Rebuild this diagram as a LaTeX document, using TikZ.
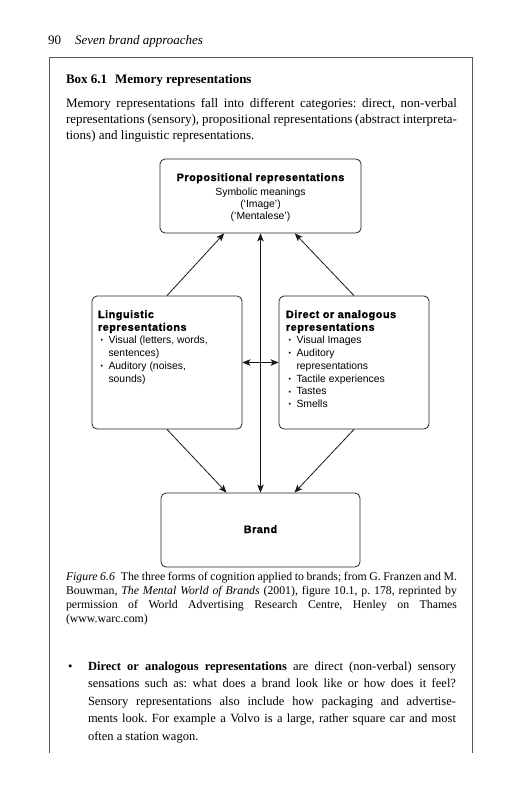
\documentclass[tikz,border=0pt]{standalone}
\usepackage{fontspec}
\setmainfont{Liberation Serif}
\newfontfamily\dsans{Liberation Sans}
\newfontfamily\dheavy{Liberation Sans Bold}[FakeBold=1.2,LetterSpace=5]
\usetikzlibrary{arrows.meta,calc}
\frenchspacing
\newcommand\jline[1]{\hbox to \hsize{#1}}
\newcommand\lastline[1]{\hbox{#1}}
\newcommand\blt{\makebox[10.5pt][l]{\hspace{2.5pt}\raisebox{0.8pt}{\fontsize{7}{7}\selectfont •}}}
\tikzset{
  dbox/.style={draw=black!85, line width=0.8pt, rounded corners=5pt, inner sep=0pt},
  arr/.style={draw=black!90, line width=0.8pt, -{Stealth[length=8pt,width=6.5pt,inset=2pt]}},
  darr/.style={draw=black!90, line width=0.8pt, {Stealth[length=8pt,width=6.5pt,inset=2pt]}-{Stealth[length=8pt,width=6.5pt,inset=2pt]}},
  txt/.style={anchor=base west, inner sep=0pt, outer sep=0pt},
  frame/.style={draw=black!65, line width=1pt}
}
\begin{document}
\begin{tikzpicture}[x=1pt,y=-1pt]
\fill[white] (0,0) rectangle (519,800);
\useasboundingbox (0,0) rectangle (519,800);

% running head
\node[txt] (pg) at (48,45) {\fontsize{13}{15}\selectfont 90};
\node[txt] (run) at (75,45) {\fontsize{13}{15}\selectfont\itshape Seven brand approaches};

% frame
\coordinate (f1) at (49,753);
\coordinate (f2) at (49,58);
\coordinate (f3) at (472,58);
\coordinate (f4) at (472,753);
\draw[frame] (f1) -- (f2) -- (f3) -- (f4);

% box title and body
\node[txt] (btitle) at (66,84) {\fontsize{13}{15}\selectfont\bfseries Box 6.1\hspace{8pt}Memory representations};
\node[txt] (body) at (66,107) {\parbox[t]{391pt}{\fontsize{13}{16}\selectfont
\jline{Memory representations fall into different categories: direct, non-verbal}
\jline{representations (sensory), propositional representations (abstract interpreta-}
\lastline{tions) and linguistic representations.}}};

% diagram boxes
\node[dbox, minimum width=201pt, minimum height=74pt] (top) at (260.5,196) {};
\node[dbox, minimum width=150pt, minimum height=133pt] (ling) at (167,362.5) {};
\node[dbox, minimum width=150pt, minimum height=133pt] (direct) at (354,362.5) {};
\node[dbox, minimum width=199pt, minimum height=74pt] (brand) at (260.5,530) {};

% box texts
\node[anchor=base, inner sep=0pt] (toptxt) at (260.5,181) {\parbox[t]{200pt}{\centering\fontsize{10.4}{12.2}\selectfont\dsans
{\fontsize{10.8}{12.2}\selectfont\dheavy Propositional representations}\\[1.8pt]
Symbolic meanings\\
(‘Image’)\\
(‘Mentalese’)}};

\node[txt] (lingtxt) at (98,318) {\parbox[t]{142pt}{\raggedright\fontsize{10.4}{12.8}\selectfont\dsans
{\fontsize{10.8}{12.8}\selectfont\dheavy Linguistic}\\
{\fontsize{10.8}{12.8}\selectfont\dheavy representations}\\
\blt Visual (letters, words,\\
\hspace*{10.5pt}sentences)\\
\blt Auditory (noises,\\
\hspace*{10.5pt}sounds)}};

\node[txt] (directtxt) at (286,318) {\parbox[t]{142pt}{\raggedright\fontsize{10.4}{12.8}\selectfont\dsans
{\fontsize{10.8}{12.8}\selectfont\dheavy Direct or analogous}\\
{\fontsize{10.8}{12.8}\selectfont\dheavy representations}\\
\blt Visual Images\\
\blt Auditory\\
\hspace*{10.5pt}representations\\
\blt Tactile experiences\\
\blt Tastes\\
\blt Smells}};

\node[anchor=base, inner sep=0pt] (brandtxt) at (260.5,533) {\fontsize{10.8}{12.8}\selectfont\dheavy Brand};

% connectors
\draw[arr] (ling.north) -- ($(top.south west)!0.32!(top.south east)$);
\draw[arr] (direct.north) -- ($(top.south west)!0.67!(top.south east)$);
\draw[arr] (ling.south) -- ($(brand.north west)!0.33!(brand.north east)$);
\draw[arr] (direct.south) -- ($(brand.north west)!0.67!(brand.north east)$);
\draw[darr] (brand.north) -- (top.south);
\draw[darr] (ling.east) -- (direct.west);

% caption
\node[txt] (cap) at (66,580) {\parbox[t]{391pt}{\fontsize{11.8}{14}\selectfont
\jline{\textit{Figure 6.6}\enspace The three forms of cognition applied to brands; from G. Franzen and M.}
\jline{Bouwman, \textit{The Mental World of Brands} (2001), figure 10.1, p. 178, reprinted by}
\jline{permission of World Advertising Research Centre, Henley on Thames}
\lastline{(www.warc.com)}}};

% bullet paragraph
\node[txt] (bul) at (68,670) {\fontsize{12.5}{16}\selectfont •};
\node[txt] (bultxt) at (88,670) {\parbox[t]{368pt}{\fontsize{12.5}{17.5}\selectfont
\jline{\textbf{Direct or analogous representations} are direct (non-verbal) sensory}
\jline{sensations such as: what does a brand look like or how does it feel?}
\jline{Sensory representations also include how packaging and advertise-}
\jline{ments look. For example a Volvo is a large, rather square car and most}
\lastline{often a station wagon.}}};
\end{tikzpicture}
\end{document}
